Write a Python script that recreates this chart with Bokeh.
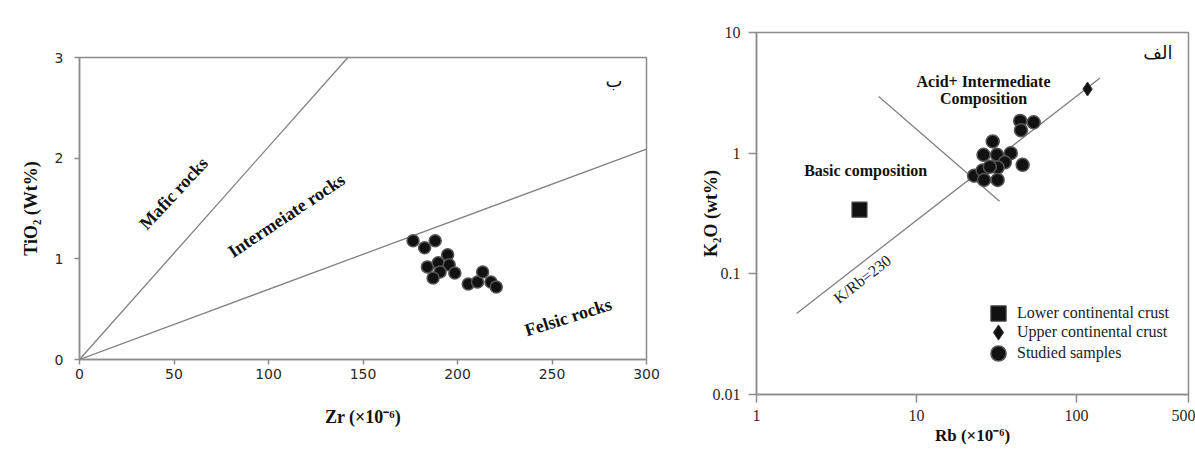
from bokeh.plotting import figure
from bokeh.layouts import row, column
from bokeh.models import Label, FixedTicker, CustomJSTickFormatter, Legend, LegendItem
from bokeh.embed import file_html
from bokeh.resources import INLINE

# ---------------- data: left panel (TiO2 vs Zr) ----------------
zr_samples = [176.5, 182.6, 188.2, 194.8, 184.1, 189.8, 195.6, 190.8, 187.1,
              198.6, 205.7, 210.6, 213.3, 217.7, 220.5]
tio2_samples = [1.18, 1.11, 1.18, 1.04, 0.92, 0.96, 0.94, 0.87, 0.81,
                0.86, 0.75, 0.77, 0.87, 0.77, 0.72]
mafic_line_zr = [0, 142]
mafic_line_tio2 = [0, 3.0]
felsic_line_zr = [0, 300]
felsic_line_tio2 = [0, 2.09]
zr_ticks = [0, 50, 100, 150, 200, 250, 300]
tio2_ticks = [0, 1, 2, 3]

# ---------------- data: right panel (K2O vs Rb) ----------------
rb_samples = [44.4, 53.9, 44.9, 29.9, 26.2, 31.8, 38.8, 35.6, 46.0,
              32.1, 22.9, 25.9, 26.4, 32.1, 28.7]
k2o_samples = [1.85, 1.80, 1.55, 1.25, 0.97, 0.97, 1.00, 0.84, 0.80,
               0.76, 0.65, 0.72, 0.60, 0.60, 0.77]
lower_crust_rb = [4.4]
lower_crust_k2o = [0.34]
upper_crust_rb = [117]
upper_crust_k2o = [3.4]
krb_line_rb = [1.78, 140]
krb_line_k2o = [0.047, 4.2]
divider_rb = [5.8, 33]
divider_k2o = [2.95, 0.40]
rb_ticks = [1, 10, 100, 500]
k2o_ticks = [0.01, 0.1, 1, 10]

AX = "#8c8c8c"
LN = "#808080"
SERIF = "Liberation Serif"


def style(p, tick_font, tick_size, tick_out, tick_standoff):
    p.grid.visible = False
    p.outline_line_color = AX
    p.outline_line_width = 1.5
    p.background_fill_color = "white"
    p.border_fill_color = "white"
    for ax in (p.xaxis[0], p.yaxis[0]):
        ax.axis_line_color = AX
        ax.axis_line_width = 1.5
        ax.major_tick_line_color = AX
        ax.major_tick_line_width = 1.5
        ax.major_tick_out = tick_out
        ax.major_tick_in = 0
        ax.minor_tick_line_color = None
        ax.major_label_text_font = tick_font
        ax.major_label_text_font_size = tick_size
        ax.major_label_text_color = "#2a2a2a"
        ax.major_label_standoff = tick_standoff
        ax.axis_label_text_font = SERIF
        ax.axis_label_text_font_style = "bold"
        ax.axis_label_text_font_size = "18px"
        ax.axis_label_text_color = "#111111"


# ================= left figure =================
p1 = figure(width=680, height=451, x_range=(0, 300), y_range=(0, 3),
            output_backend="svg", toolbar_location=None,
            min_border_left=79, min_border_right=34,
            min_border_top=57, min_border_bottom=92)
style(p1, "DejaVu Sans", "14px", 5, 4)
p1.xaxis[0].ticker = FixedTicker(ticks=zr_ticks)
p1.yaxis[0].ticker = FixedTicker(ticks=tio2_ticks)
p1.yaxis[0].major_label_standoff = 11
p1.xaxis[0].axis_label = "Zr (×10⁻⁶)"
p1.yaxis[0].axis_label = "TiO₂ (Wt%)"
p1.xaxis[0].axis_label_standoff = 25
p1.yaxis[0].axis_label_standoff = 11

p1.line(mafic_line_zr, mafic_line_tio2, line_color=LN, line_width=1.3)
p1.line(felsic_line_zr, felsic_line_tio2, line_color=LN, line_width=1.3)
p1.scatter(zr_samples, tio2_samples, marker="circle", size=12,
           fill_color="#111111", line_color="#555555", line_width=1.5)

for txt, x, y, ang in [("Mafic rocks", 49.8, 1.65, 47),
                       ("Intermeiate rocks", 109.5, 1.43, 33.7),
                       ("Felsic rocks", 258.6, 0.42, 17.5)]:
    p1.add_layout(Label(x=x, y=y, text=txt, angle=ang, angle_units="deg",
                        text_align="center", text_baseline="middle",
                        text_font=SERIF, text_font_style="bold",
                        text_font_size="18px", text_color="#111111"))
p1.add_layout(Label(x=282.8, y=2.77, text="ب", text_align="center",
                    text_baseline="middle", text_font="DejaVu Sans",
                    text_font_size="18px", text_color="#111111"))

# ================= right figure =================
p2 = figure(width=515, height=451, x_range=(1, 500), y_range=(0.01, 10),
            x_axis_type="log", y_axis_type="log",
            output_backend="svg", toolbar_location=None,
            min_border_left=76, min_border_right=7,
            min_border_top=32, min_border_bottom=57)
style(p2, SERIF, "16px", 8, 4)
p2.yaxis[0].major_label_standoff = 8
p2.xaxis[0].major_label_standoff = 7
p2.xaxis[0].ticker = FixedTicker(ticks=rb_ticks)
p2.yaxis[0].ticker = FixedTicker(ticks=k2o_ticks)
p2.xaxis[0].formatter = CustomJSTickFormatter(code="return tick.toString()")
p2.yaxis[0].formatter = CustomJSTickFormatter(code="return tick.toString()")
p2.xaxis[0].axis_label = "Rb (×10⁻⁶)"
p2.xaxis[0].axis_label_standoff = 2
p2.xaxis[0].axis_label_text_font_size = "17px"
p2.yaxis[0].axis_label = "K₂O (wt%)"
p2.yaxis[0].axis_label_standoff = -11

p2.line(krb_line_rb, krb_line_k2o, line_color=LN, line_width=1.3)
p2.line(divider_rb, divider_k2o, line_color=LN, line_width=1.3)
r_low = p2.scatter(lower_crust_rb, lower_crust_k2o, marker="square", size=15,
                   fill_color="#111111", line_color="#444444", line_width=1.2)
r_up = p2.scatter(upper_crust_rb, upper_crust_k2o, marker="diamond", size=14,
                  fill_color="#111111", line_color="#333333", line_width=1)
r_smp = p2.scatter(rb_samples, k2o_samples, marker="circle", size=13,
                   fill_color="#111111", line_color="#555555", line_width=1.5)

for txt, x, y in [("Acid+ Intermediate", 26.2, 3.90),
                  ("Composition", 26.2, 2.84),
                  ("Basic composition", 4.81, 0.713)]:
    p2.add_layout(Label(x=x, y=y, text=txt, text_align="center",
                        text_baseline="middle", text_font=SERIF,
                        text_font_style="bold", text_font_size="16px",
                        text_color="#111111"))
p2.add_layout(Label(x=4.58, y=0.0904, text="K/Rb=230", angle=38,
                    angle_units="deg", text_align="center",
                    text_baseline="middle", text_font=SERIF,
                    text_font_size="16px", text_color="#222222"))
p2.add_layout(Label(x=321.8, y=6.87, text="الف", text_align="center",
                    text_baseline="middle", text_font="DejaVu Sans",
                    text_font_size="18px", text_color="#111111"))

# one legend per row so the rows can sit 20px apart with large glyphs
legend_rows = [("Lower continental crust", r_low, 62),
               ("Upper continental crust", r_up, 43),
               ("Studied samples", r_smp, 22)]
for lbl, rend, vy in legend_rows:
    p2.add_layout(Legend(items=[LegendItem(label=lbl, renderers=[rend])],
                         location=(223, vy), orientation="vertical",
                         glyph_width=38, glyph_height=38, spacing=0,
                         label_standoff=0, padding=0, margin=0,
                         border_line_color=None, background_fill_alpha=0,
                         label_text_font=SERIF, label_text_font_size="16px",
                         label_text_color="#222222"))

layout = row(column(p1), column(p2))
open("out.html", "w").write(file_html(layout, INLINE))
